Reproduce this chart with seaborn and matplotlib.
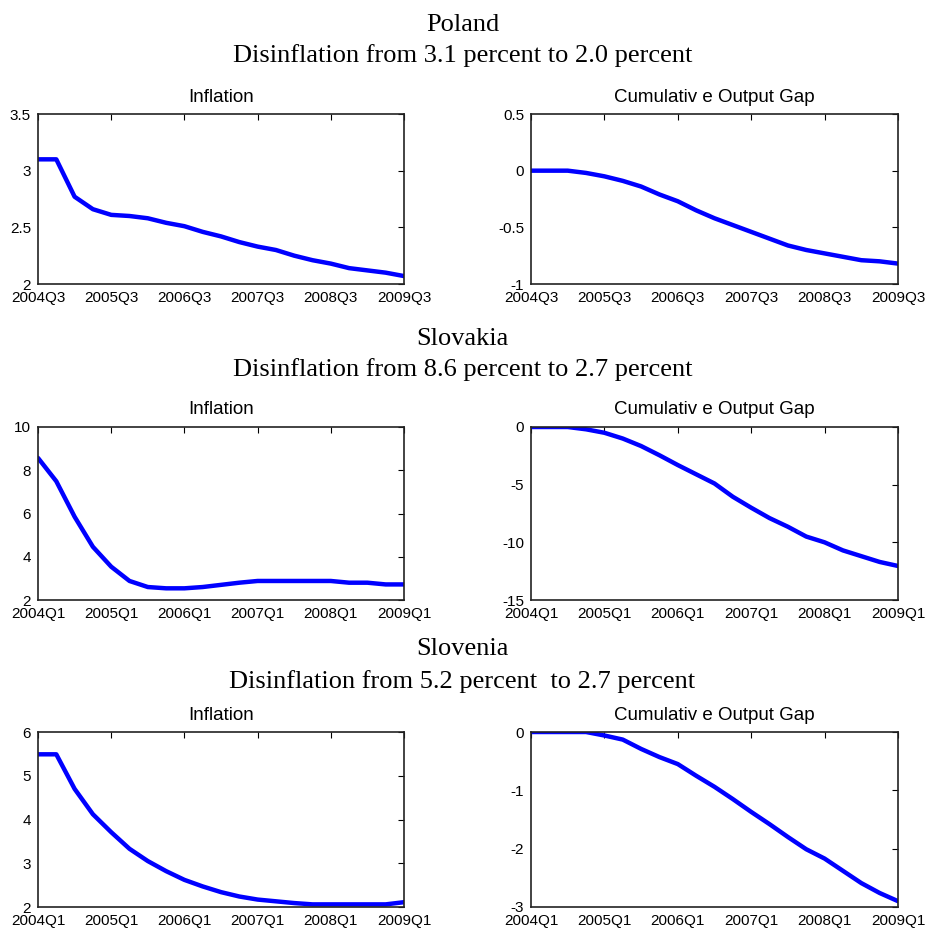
import matplotlib
matplotlib.use("Agg")
import matplotlib.pyplot as plt
import seaborn as sns
import pandas as pd

# ── Data (quarterly, 21 points each) ─────────────────────────────
poland_ticks = ["2004Q3", "2005Q3", "2006Q3", "2007Q3", "2008Q3", "2009Q3"]
poland_inflation = [3.10, 3.10, 2.77, 2.66, 2.61, 2.60, 2.58, 2.54, 2.51, 2.46, 2.42,
                    2.37, 2.33, 2.30, 2.25, 2.21, 2.18, 2.14, 2.12, 2.10, 2.07]
poland_gap = [0.0, 0.0, 0.0, -0.02, -0.05, -0.09, -0.14, -0.21, -0.27, -0.35, -0.42,
              -0.48, -0.54, -0.60, -0.66, -0.70, -0.73, -0.76, -0.79, -0.80, -0.82]

slovakia_ticks = ["2004Q1", "2005Q1", "2006Q1", "2007Q1", "2008Q1", "2009Q1"]
slovakia_inflation = [8.57, 7.49, 5.85, 4.46, 3.54, 2.88, 2.60, 2.54, 2.54, 2.60, 2.70,
                      2.80, 2.88, 2.88, 2.88, 2.88, 2.88, 2.80, 2.80, 2.72, 2.72]
slovakia_gap = [0.0, 0.0, 0.0, -0.2, -0.5, -1.0, -1.65, -2.45, -3.3, -4.1, -4.9,
                -6.05, -7.0, -7.9, -8.65, -9.5, -10.0, -10.7, -11.2, -11.7, -12.05]

slovenia_ticks = ["2004Q1", "2005Q1", "2006Q1", "2007Q1", "2008Q1", "2009Q1"]
slovenia_inflation = [5.49, 5.49, 4.70, 4.12, 3.71, 3.33, 3.05, 2.82, 2.62, 2.47, 2.34,
                      2.24, 2.17, 2.13, 2.09, 2.06, 2.06, 2.06, 2.06, 2.06, 2.11]
slovenia_gap = [0.0, 0.0, 0.0, 0.0, -0.06, -0.13, -0.29, -0.43, -0.55, -0.75, -0.94,
                -1.15, -1.37, -1.58, -1.80, -2.01, -2.17, -2.38, -2.59, -2.76, -2.90]

countries = ["Poland", "Slovakia", "Slovenia"]
subtitles = ["Disinflation from 3.1 percent to 2.0 percent",
             "Disinflation from 8.6 percent to 2.7 percent",
             "Disinflation from 5.2 percent  to 2.7 percent"]

# ── Style ────────────────────────────────────────────────
sns.set_style("white")
plt.rcParams["font.family"] = ["Liberation Sans", "DejaVu Sans"]
plt.rcParams["axes.unicode_minus"] = False
plt.rcParams["text.color"] = "black"
plt.rcParams["axes.labelcolor"] = "black"

W, H = 925, 930
fig = plt.figure(figsize=(W / 100, H / 100), dpi=100)

# axes boxes in pixels
col_x = [(38, 404), (531, 898)]
row_y = [(114, 284), (427, 600), (732, 907)]
title_y = [(25, 56), (339, 370), (649, 682)]

rows = [
    (poland_ticks, poland_inflation, poland_gap, (2, 3.5), [2, 2.5, 3, 3.5], ["2", "2.5", "3", "3.5"],
     (-1, 0.5), [-1, -0.5, 0, 0.5], ["-1", "-0.5", "0", "0.5"]),
    (slovakia_ticks, slovakia_inflation, slovakia_gap, (2, 10), [2, 4, 6, 8, 10], None,
     (-15, 0), [-15, -10, -5, 0], None),
    (slovenia_ticks, slovenia_inflation, slovenia_gap, (2, 6), [2, 3, 4, 5, 6], None,
     (-3, 0), [-3, -2, -1, 0], None),
]


def style_axis(ax, tick_labels, ylim, yticks, ylabels):
    ax.set_xlim(0, 20)
    ax.set_xticks(range(0, 21, 4))
    ax.set_xticklabels(tick_labels)
    ax.set_ylim(*ylim)
    ax.set_yticks(yticks)
    if ylabels is not None:
        ax.set_yticklabels(ylabels)
    ax.set_xlabel("")
    ax.set_ylabel("")
    ax.tick_params(direction="in", length=4, width=0.8, top=True, right=True,
                   labelsize=11, colors="black", pad=5)
    for s in ax.spines.values():
        s.set_color("#222222")
        s.set_linewidth(1.2)


for r, (ticks, infl, gap, ylim1, yt1, yl1, ylim2, yt2, yl2) in enumerate(rows):
    top, bot = row_y[r]
    for c, (vals, ttl, ylim, yt, yl) in enumerate([
            (infl, "Inflation", ylim1, yt1, yl1),
            (gap, "Cumulativ e Output Gap", ylim2, yt2, yl2)]):
        left, right = col_x[c]
        ax = fig.add_axes([left / W, 1 - bot / H, (right - left) / W, (bot - top) / H])
        df = pd.DataFrame({"q": range(len(vals)), "v": vals})
        sns.lineplot(data=df, x="q", y="v", ax=ax, color="#0000FF", lw=3.2)
        style_axis(ax, ticks, ylim, yt, yl)
        ax.set_title(ttl, fontsize=13.5, pad=9, color="black")

    fig.text(0.5, 1 - title_y[r][0] / H, countries[r], ha="center", va="center",
             family="Liberation Serif", fontsize=19, color="black")
    fig.text(0.5, 1 - title_y[r][1] / H, subtitles[r], ha="center", va="center",
             family="Liberation Serif", fontsize=19, color="black")

fig.savefig("out.png", dpi=100)
